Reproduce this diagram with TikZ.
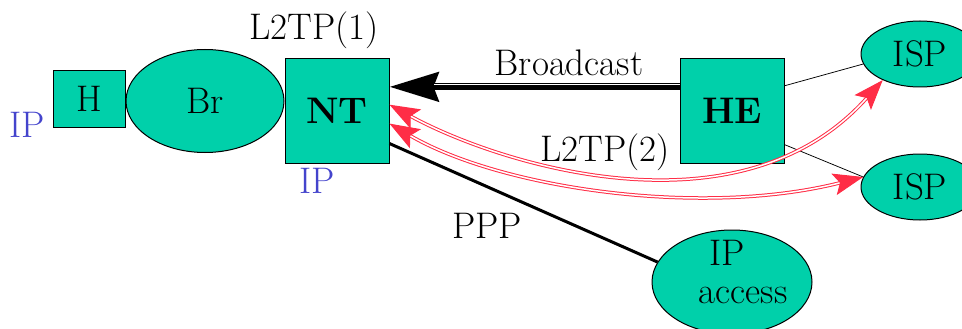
\documentclass[tikz,border=0pt]{standalone}
\usepackage{fontspec}
\usetikzlibrary{arrows.meta,shapes.geometric,calc}

\definecolor{boxfill}{RGB}{0,208,170}
\definecolor{ipblue}{RGB}{68,68,204}
\definecolor{tunnelred}{RGB}{255,45,70}
\newcommand{\bigfont}{\fontsize{37}{38}\selectfont}

\tikzset{every picture/.style={line width=0.75pt}}
\tikzset{
  hostbox/.style={draw, fill=boxfill, line width=1pt, inner sep=0pt, font=\bigfont},
  termbox/.style={hostbox, minimum width=104pt, minimum height=104pt, font=\bigfont\bfseries},
  cloud/.style={ellipse, draw, fill=boxfill, line width=1pt, inner sep=0pt, font=\bigfont},
  lbl/.style={inner sep=0pt, anchor=base, font=\bigfont},
  iplabel/.style={lbl, text=ipblue},
  bcast/.style={draw=black, line width=7pt, -{Stealth[length=49pt,width=29pt,inset=5pt]}},
  tunnel/.style={draw=tunnelred, line width=1pt, double=white, double distance=1.5pt,
    {Stealth[length=30pt,width=22pt,inset=6pt]}-{Stealth[length=30pt,width=22pt,inset=6pt]}},
}

\begin{document}
\begin{tikzpicture}[x=1pt,y=1pt,yscale=-1]
\useasboundingbox (0,0) rectangle (962,329);

%Shape: Rectangle and Ellipses
\node (h) [hostbox, minimum width=72pt, minimum height=56pt] at (89,99) {H};
\node (br) [cloud, minimum width=158pt, minimum height=103pt] at (205,101) {Br};
\node (nt) [termbox] at (337,111) {NT};
\node (he) [termbox] at (732,111) {HE};
\node (ispa) [cloud, minimum width=118pt, minimum height=66pt] at (920,54) {ISP};
\node (ispb) [cloud, minimum width=118pt, minimum height=66pt] at (920,187) {ISP};
\node (ipacc) [cloud, minimum width=160pt, minimum height=104pt, align=left,
  text height=42pt, text depth=0pt] at (732,282) {\hspace*{33pt}IP\\\hspace*{22pt}access};

% Text Node
\node (iph) [iplabel] at (27,137) {IP};
\node (ipnt) [iplabel] at (317,193) {IP};
\node (l2tpa) [lbl] at (314,40) {L2TP(1)};
\node (bctext) [lbl] at (569,76) {Broadcast};
\node (l2tpb) [lbl] at (605,161) {L2TP(2)};
\node (ppptext) [lbl] at (487,238) {PPP};

% Connection points
\coordinate (ntbc) at ($(nt.north east)!0.27!(nt.south east)$);
\coordinate (hebc) at ($(he.north west)!0.27!(he.south west)$);
\coordinate (nta) at ($(nt.north east)!0.44!(nt.south east)$);
\coordinate (ntb) at ($(nt.north east)!0.62!(nt.south east)$);
\coordinate (ntppp) at ($(nt.north east)!0.81!(nt.south east)$);
\coordinate (hea) at ($(he.north east)!0.26!(he.south east)$);
\coordinate (heb) at ($(he.north east)!0.82!(he.south east)$);

% Connection
\draw (hea) -- (ispa.190);
\draw (heb) -- (ispb.170);
\draw [line width=3pt] (ntppp) -- (ipacc.165);
\draw [bcast] (hebc) -- (ntbc);
\draw [white, line width=0.8pt] ($(hebc)+(0,-2)$) -- ($(ntbc)+(44,-2)$);
\draw [tunnel] (nta) .. controls (500,165) and (740,240) .. (ispa.215);
\draw [tunnel] (ntb) .. controls (500,188) and (700,218) .. (ispb.170);

\end{tikzpicture}
\end{document}
